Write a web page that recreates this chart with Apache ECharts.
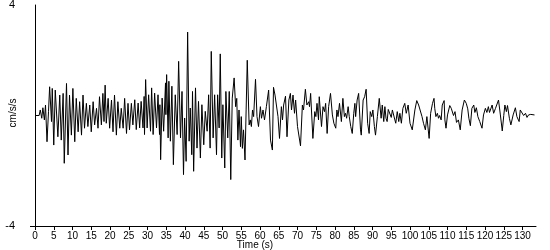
<!DOCTYPE html>
<html>
<head>
<meta charset="utf-8">
<script src="https://cdn.jsdelivr.net/npm/echarts@6/dist/echarts.min.js"></script>
<style>html,body{margin:0;padding:0;background:#fff}#c{width:550px;height:250px}</style>
</head>
<body>
<div id="c"></div>
<script>
const xTicks = [0,5,10,15,20,25,30,35,40,45,50,55,60,65,70,75,80,85,90,95,100,105,110,115,120,125,130];
const yTicks = [4, -4];

const times = [
0,0.2,1.1,1.4,1.8,2.1,2.5,2.8,3.2,3.6,3.9,4.4,4.6,5.0,5.4,6.1,6.6,7.0,7.5,7.8,8.4,8.8,9.2,9.7,10.1,10.6,11.0,11.5,11.9,12.4,12.8,13.2,13.7,14.1,14.6,15.0,15.5,15.9,16.4,16.8,17.2,17.7,18.1,18.4,18.7,19.0,19.5,19.9,20.4,20.8,21.2,21.7,22.1,22.6,23.0,23.5,23.9,24.4,24.8,25.2,25.7,26.1,
26.6,27.0,27.5,27.9,28.3,28.8,29.1,29.2,29.5,29.9,30.3,30.8,31.1,31.5,31.9,32.4,32.8,33.2,33.3,33.5,33.9,34.3,34.8,34.9,35.1,35.5,35.7,36.1,36.5,36.9,37.4,37.9,38.3,38.8,39.2,39.6,39.9,40.3,40.7,41.1,41.4,41.8,42.0,42.3,42.8,43.2,43.6,44.1,44.5,45.0,45.4,45.9,46.3,46.7,47.0,47.5,47.9,48.4,48.7,49.1,49.4,49.8,50.1,50.6,50.9,51.4,51.8,52.2,52.6,53.1,
53.5,53.8,54.1,54.4,54.8,55.0,55.3,55.6,56.0,56.3,56.6,57.1,57.4,57.7,58.0,58.3,58.8,59.2,59.6,60.1,60.4,60.8,61.2,61.7,62.3,62.8,63.3,63.6,64.0,64.4,64.8,65.2,65.7,66.0,66.3,66.8,67.2,67.7,68.1,68.4,68.8,69.2,69.5,70.0,70.8,71.3,71.6,72.1,72.5,73.0,73.2,73.5,74.1,74.6,74.9,75.2,75.6,75.8,76.4,76.8,77.2,77.5,77.9,78.3,78.8,79.3,79.7,
80.2,80.5,80.8,81.2,81.7,82.1,82.5,82.8,83.1,83.5,83.8,84.2,84.6,85.0,85.3,85.5,85.9,86.3,86.8,87.0,87.5,87.9,88.3,88.7,89.1,89.4,89.8,90.1,90.5,90.8,91.3,91.8,92.3,92.6,93.0,93.3,93.6,93.9,94.2,94.6,95.0,95.3,95.7,96.2,96.6,97.0,97.3,97.7,98.1,98.6,99.0,99.5,100.0,100.6,101.3,101.8,102.3,102.8,103.2,103.6,104.1,104.5,105.1,105.5,106.0,106.4,
106.6,106.9,107.3,107.6,107.9,108.3,108.6,109.1,109.3,109.6,110.0,110.6,111.0,111.3,111.6,112.0,112.4,112.9,113.4,113.9,114.5,115.0,115.4,115.7,116.1,116.5,117.0,117.3,117.7,118.1,118.6,119.2,119.6,120.1,120.5,120.9,121.2,121.9,122.3,122.8,123.6,124.1,124.6,125.0,125.3,125.7,126.0,126.5,126.9,127.5,128.1,128.5,129.1,129.4,129.9,130.3,130.8,131.2,131.6,132.2,133.2
];

const accel = [
0,0.02,0,0.2,-0.1,0.28,-0.16,0.38,-0.95,0.14,1.04,-0.22,0.98,-1.07,0.92,-0.77,0.74,-0.89,0.8,-1.73,1.16,-1.43,0.74,-0.71,0.98,-0.95,0.62,-0.59,0.5,-0.71,0.74,-0.46,0.44,-0.4,0.38,-0.59,0.5,-0.34,0.26,-0.46,0.68,-0.34,0.8,-0.22,1.1,-0.28,0.62,-0.46,0.56,-0.59,0.74,-0.71,0.5,-0.46,0.26,-0.46,0.62,-0.65,0.44,-0.52,0.44,-0.34,
0.57,-0.51,0.45,-0.45,0.51,-0.45,0.69,-0.69,1.3,-0.45,0.75,-0.57,1.0,-0.69,0.81,-0.45,0.75,-0.69,0.39,-1.6,0.63,-0.57,1.18,0.03,1.48,-0.81,1.24,-0.93,1.06,-1.78,0.75,-0.69,1.96,-0.81,0.87,-2.14,-0.09,-1.66,3.02,-0.93,0.27,-1.42,0.87,-2.02,1.0,-1.18,0.51,-1.54,0.39,-1.06,0.15,-0.57,0.75,-1.18,2.32,-0.81,0.75,-1.42,0.75,-0.45,2.23,-1.54,0.39,-1.9,0.87,-0.81,0.87,-2.32,0.63,1.36,
0.32,0.62,-0.89,0.2,-1.13,-0.04,-1.19,-0.52,-1.61,0.2,2.0,-0.34,-0.16,-0.4,0.2,-0.04,1.31,-0.04,-0.4,0.32,-0.1,0.2,-0.16,0.32,0.92,-0.89,-1.25,1.02,0.74,0.68,-0.04,-0.83,0.32,-0.16,0.38,0.7,-0.77,0.56,0.8,0.2,0.74,0.08,0.56,-0.4,-1.1,0.38,0.2,0.95,0.38,0.5,0.32,0.8,-0.83,0.14,-0.04,0.44,-0.16,0.68,-0.4,0.32,0.14,0.44,-0.65,0.32,0.8,0.02,-0.28,
-0.46,0.2,-0.04,0.44,-0.22,0.62,-0.04,0.08,-0.1,0.32,-0.04,-0.4,-0.65,0.08,0.44,-0.04,0.56,0.8,-0.52,-0.71,0.56,0.68,0.95,-0.28,-0.65,0.14,-0.04,0.2,-0.4,-0.71,-0.04,0.62,-0.1,0.38,-0.22,0.32,-0.1,-0.22,0.22,0.26,-0.07,0.2,-0.02,-0.28,0.14,-0.22,0.08,-0.28,0.26,0.44,0.08,0.38,-0.28,-0.52,0.2,0.54,0.38,0.32,-0.04,-0.28,-0.52,-0.04,-0.83,0.08,0.44,0.62,
0.26,-0.04,0.08,-0.1,0,-0.16,0.38,0.54,-0.16,-0.46,0.02,0.36,0.26,0.28,0,0.14,-0.25,-0.16,-0.52,0.2,0.56,0.44,0.24,-0.1,-0.37,0.26,0.38,0.11,0.28,-0.04,-0.22,-0.46,0.02,0.26,0.11,0.32,0.11,0.38,0.08,0.26,0.56,0.02,-0.56,0,0.38,0.14,0.36,-0.1,-0.34,0.02,0.28,-0.04,-0.22,0.2,0.2,0,0.08,-0.07,0.02,0.04,0.02
];

const data = times.map((t, i) => [t, accel[i]]);
const font = '"Liberation Sans", Arial, sans-serif';

const chart = echarts.init(document.getElementById('c'), null, {renderer: 'canvas'});
chart.setOption({
  animation: false,
  backgroundColor: '#fff',
  grid: {left: 35, right: 14, top: 5, bottom: 24, containLabel: false, outerBoundsMode: 'none'},
  xAxis: {
    type: 'value', min: 0, max: 133.6,
    axisLine: {show: true, onZero: false, lineStyle: {color: '#000', width: 1}},
    axisTick: {show: true, inside: false, length: 4, customValues: xTicks, lineStyle: {color: '#000'}},
    axisLabel: {customValues: xTicks, color: '#000', fontSize: 10, fontFamily: font, margin: 5},
    splitLine: {show: false}
  },
  yAxis: {
    type: 'value', min: -4, max: 4,
    axisLine: {show: true, onZero: false, lineStyle: {color: '#000', width: 1}},
    axisTick: {show: true, length: 5, customValues: [-4], lineStyle: {color: '#000'}},
    axisLabel: {customValues: yTicks, color: '#000', fontSize: 11, fontFamily: font, margin: 20},
    splitLine: {show: false}
  },
  graphic: [
    {type: 'text', x: 13, y: 113, rotation: Math.PI / 2,
     style: {text: 'cm/s/s', fontSize: 10, fontFamily: font, fill: '#000', align: 'center', verticalAlign: 'middle'}},
    {type: 'text', x: 255, y: 245,
     style: {text: 'Time (s)', fontSize: 10, fontFamily: font, fill: '#000', align: 'center', verticalAlign: 'middle'}}
  ],
  series: [{
    type: 'line', data: data, showSymbol: false, symbol: 'none',
    lineStyle: {color: '#000', width: 1}, sampling: null, smooth: false
  }]
});
</script>
</body>
</html>
